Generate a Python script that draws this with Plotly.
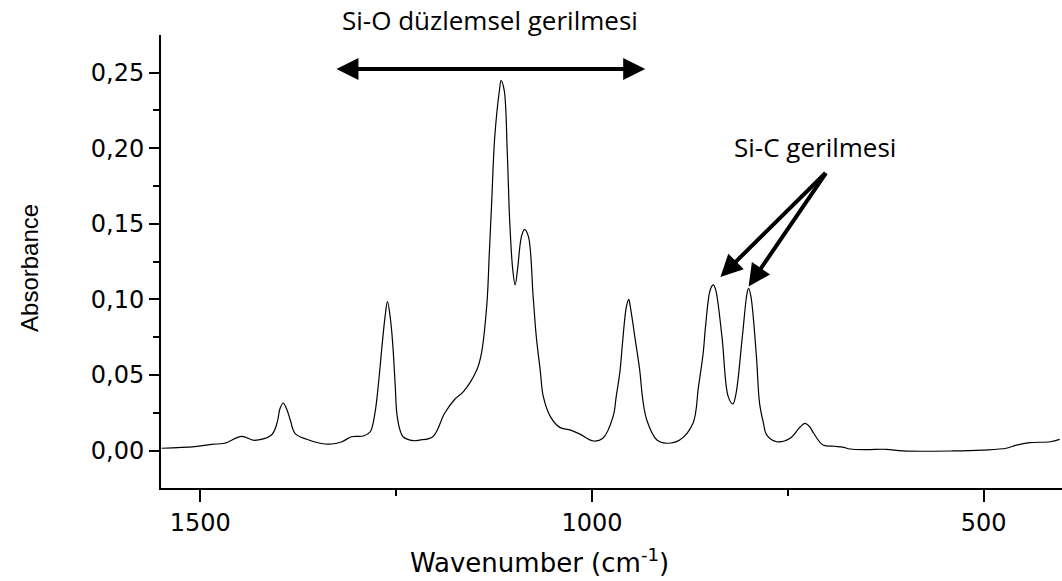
import plotly.graph_objects as go

# Spectrum (wavenumber cm^-1, absorbance)
wavenumber = [1549, 1507, 1486, 1469, 1447, 1431, 1409, 1402, 1398, 1394, 1390, 1385,
              1379, 1364, 1347, 1332, 1319, 1307, 1292, 1283, 1277, 1272, 1268, 1264,
              1261, 1257, 1254, 1251, 1249, 1245, 1241, 1228, 1220, 1203, 1188, 1175,
              1164, 1147, 1141, 1134, 1131, 1128, 1124, 1118, 1116, 1112, 1108, 1105,
              1101, 1098, 1095, 1090, 1086, 1081, 1075, 1071, 1066, 1062, 1053, 1041,
              1028, 1016, 998, 986, 973, 969, 964, 961, 956, 953, 951, 944,
              939, 935, 930, 917, 905, 888, 871, 864, 858, 855, 849, 845,
              842, 834, 826, 820, 816, 808, 802, 800, 797, 790, 786, 781,
              777, 764, 747, 734, 728, 722, 717, 705, 690, 680, 670, 650,
              624, 603, 539, 501, 471, 458, 441, 415, 403]
absorbance = [0.0015, 0.0025, 0.0041, 0.0048, 0.0094, 0.0067, 0.0103, 0.0180, 0.0279, 0.0314, 0.0279, 0.0202,
              0.0114, 0.0074, 0.0048, 0.0043, 0.0058, 0.0091, 0.0096, 0.0124, 0.0246, 0.0466, 0.0687, 0.0885,
              0.0984, 0.0863, 0.0687, 0.0422, 0.0246, 0.0136, 0.0091, 0.0065, 0.0069, 0.0091, 0.0246, 0.0339,
              0.0389, 0.0532, 0.0643, 0.0974, 0.1300, 0.1635, 0.2075, 0.2384, 0.2446, 0.2384, 0.1966, 0.1524,
              0.1194, 0.1095, 0.1194, 0.1414, 0.1463, 0.1414, 0.1017, 0.0753, 0.0532, 0.0356, 0.0224, 0.0153,
              0.0136, 0.0110, 0.0063, 0.0081, 0.0224, 0.0356, 0.0532, 0.0709, 0.0951, 0.1000, 0.0951, 0.0709,
              0.0532, 0.0334, 0.0202, 0.0069, 0.0048, 0.0069, 0.0180, 0.0422, 0.0643, 0.0819, 0.1062, 0.1095,
              0.1062, 0.0753, 0.0356, 0.0308, 0.0378, 0.0753, 0.1040, 0.1073, 0.1017, 0.0620, 0.0312, 0.0180,
              0.0103, 0.0058, 0.0081, 0.0157, 0.0180, 0.0157, 0.0114, 0.0036, 0.0028, 0.0022, 0.0010, 0.0006,
              0.0008, -0.0003, -0.0003, 0.0003, 0.0015, 0.0036, 0.0052, 0.0058, 0.0074]

x_ticks = [1500, 1000, 500]
x_tick_labels = ["1500", "1000", "500"]
x_minor_ticks = [1250, 750]
y_ticks = [0.00, 0.05, 0.10, 0.15, 0.20, 0.25]
y_tick_labels = ["0,00", "0,05", "0,10", "0,15", "0,20", "0,25"]
y_minor_ticks = [0.025, 0.075, 0.125, 0.175, 0.225]

x_range = [1550, 400]
y_range = [-0.0248, 0.2748]

# annotation anchors (data units)
sio_label = "Si-O düzlemsel gerilmesi"
sio_span = [1328, 932]
sio_arrow_y = 0.2523
sio_text_x = 1130
sic_label = "Si-C gerilmesi"
sic_text_x = 715
sic_text_y = 0.2007
sic_tail = (700, 0.1845)
sic_tips = [(836, 0.1148), (800, 0.1085)]

fig = go.Figure()
fig.add_trace(go.Scatter(
    x=wavenumber, y=absorbance, mode="lines",
    line=dict(color="black", width=1.2, shape="spline", smoothing=1.0),
    showlegend=False, hoverinfo="skip"))

axis_font = dict(family="DejaVu Sans", size=24, color="black")

fig.update_layout(
    width=1062, height=581,
    margin=dict(l=161, r=0, t=35, b=93),
    paper_bgcolor="white", plot_bgcolor="white",
    separators=",.",
    xaxis=dict(
        range=x_range, showgrid=False, zeroline=False,
        showline=True, linecolor="black", linewidth=2,
        ticks="outside", ticklen=12, tickwidth=2, tickcolor="black",
        tickvals=x_ticks, ticktext=x_tick_labels, tickfont=axis_font,
        minor=dict(ticks="outside", ticklen=6, tickwidth=2, tickcolor="black",
                   tickvals=x_minor_ticks),
    ),
    yaxis=dict(
        range=y_range, showgrid=False, zeroline=False,
        showline=True, linecolor="black", linewidth=2,
        ticks="outside", ticklen=10, tickwidth=2, tickcolor="black",
        tickvals=y_ticks, ticktext=y_tick_labels, tickfont=axis_font,
        minor=dict(ticks="outside", ticklen=6, tickwidth=2, tickcolor="black",
                   tickvals=y_minor_ticks),
    ),
)

# axis titles
fig.add_annotation(x=0.42, y=-0.162, xref="paper", yref="paper",
                   text="Wavenumber (cm<sup>-1</sup>)", showarrow=False,
                   xanchor="center", yanchor="middle",
                   font=dict(family="DejaVu Sans", size=26, color="black"))
fig.add_annotation(x=-0.1454, y=0.4857, xref="paper", yref="paper",
                   text="Absorbance", showarrow=False, textangle=-90,
                   xanchor="center", yanchor="middle",
                   font=dict(family="Liberation Sans", size=24, color="black"))

ann_font = dict(family="Open Sans", size=26, color="black")

fig.add_annotation(x=sio_text_x, y=1.033, xref="x", yref="paper",
                   text=sio_label, showarrow=False, font=ann_font,
                   xanchor="center", yanchor="middle")
fig.add_annotation(x=sio_span[1], y=sio_arrow_y, ax=sio_span[0], ay=sio_arrow_y,
                   xref="x", yref="y", axref="x", ayref="y",
                   showarrow=True, arrowhead=2, startarrowhead=2, arrowside="end+start",
                   arrowwidth=4, arrowsize=1.1, startarrowsize=1.1, arrowcolor="black", text="")
fig.add_annotation(x=sic_text_x, y=sic_text_y, xref="x", yref="y",
                   text=sic_label, showarrow=False, font=ann_font,
                   xanchor="center", yanchor="middle")
for tx, ty in sic_tips:
    fig.add_annotation(x=tx, y=ty, ax=sic_tail[0], ay=sic_tail[1],
                       xref="x", yref="y", axref="x", ayref="y",
                       showarrow=True, arrowhead=2, arrowwidth=4, arrowsize=1.1,
                       arrowcolor="black", text="")

fig.write_html("out.html")
